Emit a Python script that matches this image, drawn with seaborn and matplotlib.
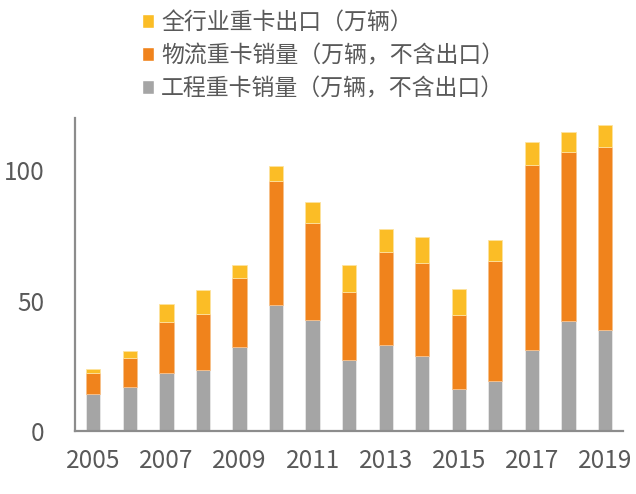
import numpy as np
import pandas as pd
import matplotlib
matplotlib.use("Agg")
import matplotlib.pyplot as plt
import seaborn as sns
from matplotlib.patches import Patch

years = [str(y) for y in range(2005, 2020)]
# 工程重卡销量（万辆，不含出口）
gongcheng = [14.2, 16.8, 22.1, 23.5, 32.1, 48.5, 42.5, 27.4, 32.9, 28.9, 16.3, 19.0, 31.0, 42.3, 38.6]
# 物流重卡销量（万辆，不含出口）
wuliu = [8.0, 11.2, 19.7, 21.5, 26.4, 47.3, 37.2, 26.0, 35.7, 35.6, 28.3, 46.3, 71.0, 64.6, 70.2]
# 全行业重卡出口（万辆）
chukou = [1.4, 2.6, 6.8, 8.9, 5.0, 5.8, 8.3, 10.1, 8.7, 9.8, 10.0, 7.8, 8.9, 7.7, 8.4]

labels = ["工程重卡销量（万辆，不含出口）", "物流重卡销量（万辆，不含出口）", "全行业重卡出口（万辆）"]
colors = ["#A5A5A5", "#F0831C", "#FBBD26"]

sns.set_style("white")
plt.rcParams['font.family'] = ['Noto Sans CJK SC', 'DejaVu Sans']

df = pd.DataFrame({"year": years, "g": gongcheng, "w": wuliu, "c": chukou})
bottom1 = df["g"].values
bottom2 = (df["g"] + df["w"]).values

fig = plt.figure(figsize=(6.36, 4.94), dpi=100)
ax = fig.add_axes([0.118, 0.1275, 0.862, 0.6335])

sns.barplot(data=df, x="year", y="g", color=colors[0], width=0.39, ax=ax,
            edgecolor="#E8E8E8", linewidth=0.6, saturation=1)
sns.barplot(data=df, x="year", y="w", color=colors[1], width=0.39, ax=ax,
            bottom=bottom1, edgecolor="#F6C08A", linewidth=0.6, saturation=1)
sns.barplot(data=df, x="year", y="c", color=colors[2], width=0.39, ax=ax,
            bottom=bottom2, edgecolor="#FDE3A0", linewidth=0.6, saturation=1)

ax.set_xlim(-0.5, 14.5)
ax.set_ylim(0, 120)
ax.set_xlabel("")
ax.set_ylabel("")

# tick marks between categories, labels every other year
ax.set_xticks(np.arange(-0.5, 15, 1))
ax.set_xticklabels([])
ax.set_xticks(np.arange(0, 15, 2), minor=True)
ax.set_xticklabels(years[::2], minor=True)
ax.tick_params(axis="x", which="major", direction="out", length=6, width=1.2, color="#8C8C8C")
ax.tick_params(axis="x", which="minor", length=0, pad=12, labelsize=17.5, labelcolor="#595959")

ax.set_yticks([0, 50, 100])
ax.tick_params(axis="y", direction="out", length=6, width=1.2, color="#8C8C8C",
               labelsize=17.5, labelcolor="#595959", pad=16)

sns.despine(ax=ax)
for s in ["left", "bottom"]:
    ax.spines[s].set_color("#8C8C8C")
    ax.spines[s].set_linewidth(1.6)

handles = [Patch(facecolor=c) for c in colors][::-1]
fig.legend(handles, labels[::-1], loc="upper left", bbox_to_anchor=(0.224, 0.978),
           frameon=False, fontsize=16.5, labelcolor="#595959", handlelength=0.52,
           handleheight=0.55, handletextpad=0.3, labelspacing=0.45,
           borderpad=0, borderaxespad=0)

fig.savefig("out.png", dpi=100)
